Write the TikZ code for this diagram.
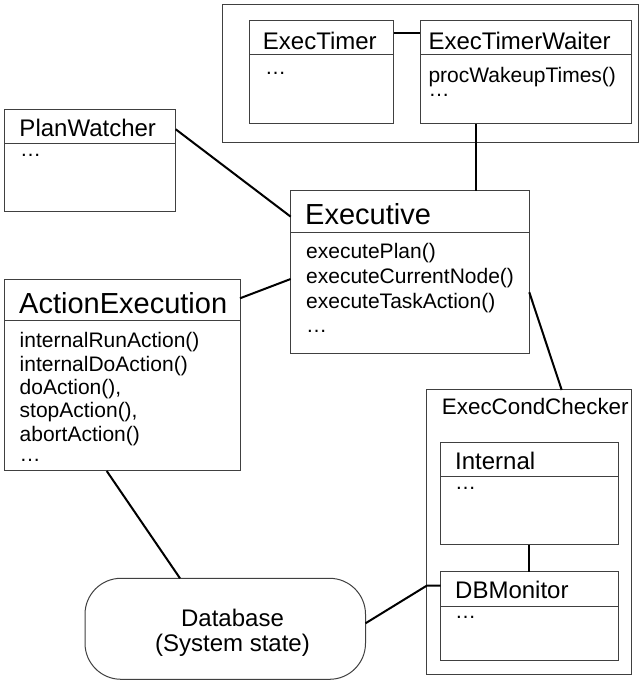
\documentclass[tikz,border=0pt]{standalone}
\usepackage{fontspec}
\setmainfont{Liberation Sans}
\begin{document}
\begin{tikzpicture}[x=1pt,y=1pt,
  box/.style={draw=black!75, line width=1pt, fill=white, rectangle, inner sep=0pt, outer sep=0pt, anchor=north west},
  hdr/.style={draw=black!75, line width=1pt},
  conn/.style={draw=black, line width=2pt},
  bigtitle/.style={anchor=base west, inner sep=0pt, font=\fontsize{29}{29}\selectfont},
  midtitle/.style={anchor=base west, inner sep=0pt, font=\fontsize{24}{24}\selectfont},
  body/.style={anchor=base west, inner sep=0pt, font=\fontsize{21}{21}\selectfont},
]
\useasboundingbox (0,0) rectangle (639,684);
\fill[white] (0,0) rectangle (639,684);

% outer group at top
\node[box, minimum width=415.3pt, minimum height=138pt] (grp) at (222.7,679) {};
% ExecTimer
\node[box, minimum width=144.4pt, minimum height=103.3pt] (et) at (249.3,663.3) {};
\draw[hdr] ([yshift=-34.3pt]et.north west) -- ([yshift=-34.3pt]et.north east);
\node[midtitle] (ett) at (262.7,634) {ExecTimer};
\node[body] (etd) at (265,609) {…};
% ExecTimerWaiter
\node[box, minimum width=211.7pt, minimum height=103.3pt] (etw) at (420,663.3) {};
\draw[hdr] ([yshift=-34.3pt]etw.north west) -- ([yshift=-34.3pt]etw.north east);
\node[midtitle] (etwt) at (428.3,634) {ExecTimerWaiter};
\node[body] (etwb) at (428.3,601) {procWakeupTimes()};
\node[body] (etwd) at (428.3,587) {…};

% PlanWatcher
\node[box, minimum width=171.4pt, minimum height=102.4pt] (pw) at (4.3,574.7) {};
\draw[hdr] ([yshift=-34pt]pw.north west) -- ([yshift=-34pt]pw.north east);
\node[midtitle] (pwt) at (19.3,547.3) {PlanWatcher};
\node[body] (pwd) at (20,527) {…};

% Executive
\node[box, minimum width=238.6pt, minimum height=163.3pt] (ex) at (290.7,493.3) {};
\draw[hdr] ([yshift=-41.6pt]ex.north west) -- ([yshift=-41.6pt]ex.north east);
\node[bigtitle] (ext) at (305,459) {Executive};
\node[body] (ex1) at (306,425.7) {executePlan()};
\node[body] (ex2) at (306,400.7) {executeCurrentNode()};
\node[body] (ex3) at (306,375.7) {executeTaskAction()};
\node[body] (ex4) at (306,351) {…};

% ActionExecution
\node[box, minimum width=235.7pt, minimum height=191pt] (ae) at (4.3,404) {};
\draw[hdr] ([yshift=-41pt]ae.north west) -- ([yshift=-41pt]ae.north east);
\node[bigtitle] (aet) at (19,370.7) {ActionExecution};
\node[body] (ae1) at (19.5,336) {internalRunAction()};
\node[body] (ae2) at (19.5,312.5) {internalDoAction()};
\node[body] (ae3) at (19.5,289) {doAction(),};
\node[body] (ae4) at (19.5,266) {stopAction(),};
\node[body] (ae5) at (19.5,242.5) {abortAction()};
\node[body] (ae6) at (19.5,222) {…};

% ExecCondChecker
\node[box, minimum width=205pt, minimum height=284.3pt] (ecc) at (426.7,294) {};
\node[midtitle, font=\fontsize{22.4}{22.4}\selectfont] (ecct) at (441.7,269) {ExecCondChecker};
% Internal
\node[box, minimum width=177.6pt, minimum height=102.3pt] (int) at (440.7,241.3) {};
\draw[hdr] ([yshift=-34pt]int.north west) -- ([yshift=-34pt]int.north east);
\node[midtitle] (intt) at (455,214) {Internal};
\node[body] (intd) at (455,194) {…};
% DBMonitor
\node[box, minimum width=177.6pt, minimum height=89pt] (dbm) at (440.7,112.3) {};
\draw[hdr] ([yshift=-34.8pt]dbm.north west) -- ([yshift=-34.8pt]dbm.north east);
\node[midtitle] (dbmt) at (455,85.7) {DBMonitor};
\node[body] (dbmd) at (455,65) {…};

% Database
\node[box, rounded corners=36pt, minimum width=280.5pt, minimum height=101pt] (db) at (85,105.7) {};
\node[midtitle, anchor=base] (dbt1) at (232.5,57.3) {Database};
\node[midtitle, anchor=base] (dbt2) at (232.5,32.3) {(System state)};

% connectors
\draw[conn] ([yshift=-12.6pt]et.north east) -- ([yshift=-12.6pt]etw.north west);
\draw[conn] ([xshift=56pt]etw.south west) -- ([xshift=185.3pt]ex.north west);
\draw[conn] ([yshift=-20pt]pw.north east) -- ([yshift=-26pt]ex.north west);
\draw[conn] ([yshift=-18.3pt]ae.north east) -- ([yshift=-88.3pt]ex.north west);
\draw[conn] ([yshift=-101.6pt]ex.north east) -- ([xshift=135pt]ecc.north west);
\draw[conn] ([xshift=88.3pt]int.south west) -- ([xshift=88.3pt]dbm.north west);
\draw[conn] ([xshift=102.4pt]ae.south west) -- ([xshift=95pt]db.north west);
\coordinate (dbin) at ([yshift=-14pt]dbm.north west);
\draw[conn] ([yshift=-45pt]db.north east) -- (dbin -| ecc.west) -- (dbin);
\end{tikzpicture}
\end{document}
